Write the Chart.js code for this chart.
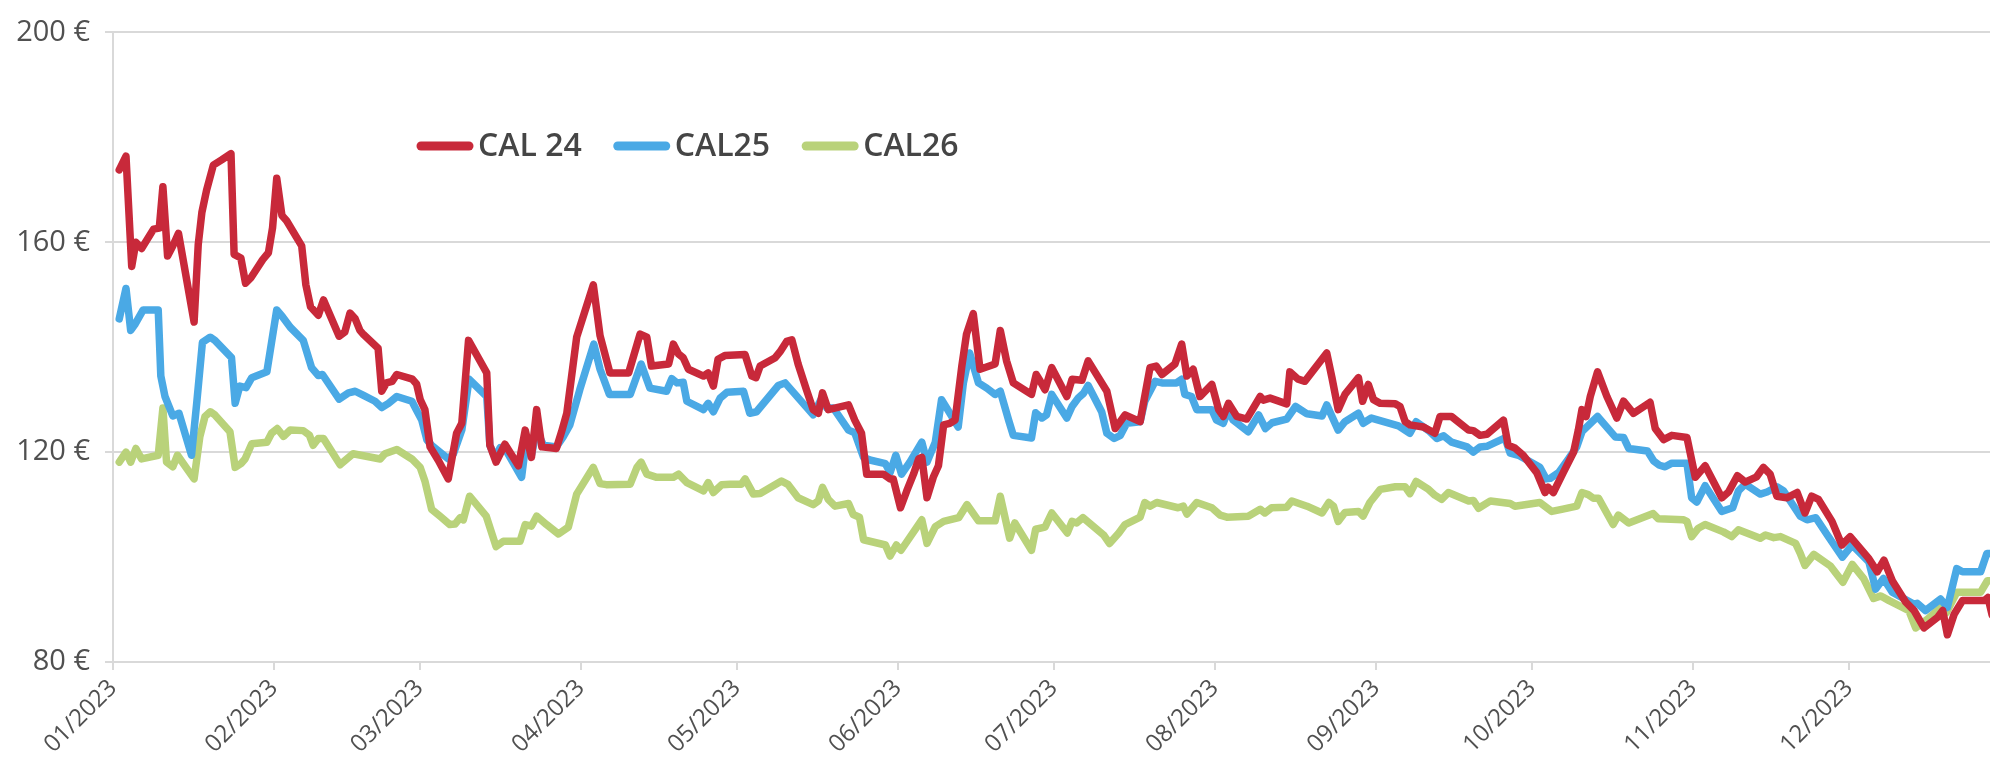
<!DOCTYPE html>
<html>
<head>
<meta charset="utf-8">
<script src="https://cdn.jsdelivr.net/npm/chart.js@4.4.1/dist/chart.umd.min.js"></script>
<style>
  html, body { margin: 0; padding: 0; background: #ffffff; }
  #wrap { width: 1990px; height: 766px; }
</style>
</head>
<body>
<div id="wrap"><canvas id="c" width="1990" height="766"></canvas></div>
<script>
// x values are day-of-year 2023 (0 = 1 Jan)
const monthLabels = ['01/2023','02/2023','03/2023','04/2023','05/2023','06/2023','07/2023','08/2023','09/2023','10/2023','11/2023','12/2023'];
const monthStartDays = [0, 31, 59, 90, 120, 151, 181, 212, 243, 273, 304, 334];
const priceTicks = [80, 120, 160, 200];
const seriesNames = ['CAL 24', 'CAL25', 'CAL26'];

const cal24Days = [1.2,2.5,3.6,4.4,5.5,7.8,8.9,9.6,10.5,11.5,12.6,15.6,16.4,17.1,18.0,19.3,20.9,22.7,23.3,24.6,25.5,26.5,28.8,29.9,30.7,31.5,32.5,33.4,36.3,37.1,38.0,39.5,40.5,43.5,44.6,45.6,46.6,47.5,48.2,51.0,51.7,52.6,53.7,54.6,57.6,58.4,59.1,60.0,61.0,62.6,64.5,66.1,67.1,68.4,71.9,72.5,73.7,75.4,78.0,79.3,80.5,81.5,82.5,85.3,86.3,87.3,89.2,92.4,93.7,95.6,99.2,101.4,102.7,103.6,106.9,107.8,108.8,109.7,110.7,113.6,114.5,115.5,116.4,117.7,121.6,122.9,123.7,124.5,127.4,128.3,129.6,130.6,131.8,133.4,134.7,135.7,136.5,137.6,141.5,142.7,144.0,145.0,148.2,149.5,150.1,151.5,152.7,154.0,155.0,155.6,156.6,157.8,158.8,159.8,161.0,162.0,163.3,164.2,165.5,166.8,169.7,170.7,171.9,173.2,176.7,177.6,178.4,179.3,180.6,183.5,184.5,186.4,187.6,191.2,192.8,194.7,197.6,199.5,200.7,201.8,204.3,205.6,206.6,207.8,209.1,211.4,212.7,213.6,214.6,216.2,218.1,220.7,221.3,222.6,225.8,226.4,228.0,229.3,233.5,234.5,235.7,237.0,239.6,240.4,241.5,242.5,243.8,246.7,247.6,248.6,249.5,252.1,254.3,255.3,257.5,260.8,261.7,263.0,264.3,267.5,268.4,269.7,271.3,273.9,275.5,276.1,277.1,279.0,281.0,281.9,282.6,283.4,284.2,285.6,287.4,289.3,290.6,292.5,295.7,296.7,298.3,299.9,302.8,304.4,306.3,309.5,310.8,312.5,314.0,316.2,317.5,318.8,320.1,322.0,324.0,325.5,326.8,328.1,330.7,332.6,334.2,337.8,339.4,340.7,342.3,344.9,346.5,348.4,351.0,352.0,352.9,354.2,355.8,360.0,360.7,361.5];
const cal24Prices = [173.8,176.4,155.4,160.0,158.8,162.5,162.7,170.6,157.4,159.3,161.7,144.8,159.6,165.7,169.9,174.7,175.7,176.9,157.7,157.0,152.2,153.2,156.7,158.0,162.8,172.2,165.1,164.1,159.3,151.9,147.7,146.1,149.0,142.1,142.9,146.5,145.4,143.2,142.4,139.8,131.6,133.2,133.5,134.8,133.9,133.0,130.0,128.1,121.0,118.4,114.9,123.6,125.5,141.3,135.1,121.3,118.1,121.5,117.4,124.2,119.0,128.1,121.0,120.7,123.9,127.4,141.9,151.9,142.2,135.1,135.1,142.5,141.9,136.4,136.8,140.6,138.7,138.0,135.8,134.5,135.1,132.6,137.7,138.4,138.6,134.5,134.2,136.4,138.0,139.1,141.1,141.4,136.8,131.9,128.1,127.4,131.3,128.1,129.0,126.1,123.6,115.8,115.8,114.9,114.9,109.4,112.6,115.8,118.7,119.0,111.3,115.2,117.4,125.2,125.5,126.1,136.4,142.5,146.4,135.8,136.8,143.2,137.4,133.2,131.0,134.8,133.5,131.9,136.1,130.6,133.9,133.7,137.4,131.6,124.5,127.1,125.8,136.1,136.4,134.8,136.8,140.6,134.5,135.8,130.6,132.9,128.1,126.8,129.3,126.8,126.3,130.6,129.9,130.3,129.2,135.3,133.9,133.5,138.9,134.2,128.1,131.0,134.2,129.7,132.9,130.0,129.3,129.2,128.7,125.8,125.2,124.8,123.6,126.8,126.8,124.2,124.1,123.2,123.4,126.1,121.3,120.8,119.4,116.1,112.3,113.3,112.3,116.1,120.0,124.2,128.1,126.8,130.6,135.3,130.6,126.5,129.7,127.4,129.5,124.5,122.4,123.2,122.8,115.2,117.4,111.3,112.4,115.5,114.3,115.3,117.1,115.8,111.6,111.3,112.3,108.4,111.6,111.0,106.8,102.3,103.9,99.7,97.2,99.4,95.5,91.4,89.8,86.5,88.5,89.8,85.2,89.1,91.7,91.7,92.3,89.0];

const cal25Days = [1.2,2.5,3.4,4.2,5.8,8.7,9.2,10.0,11.5,12.7,15.1,16.1,17.2,18.7,19.6,22.8,23.5,24.4,25.6,26.7,29.6,30.5,31.5,32.6,34.1,36.6,38.2,39.5,40.3,43.5,45.3,46.6,48.2,50.4,51.7,53.0,54.6,57.5,58.4,59.4,60.4,61.3,64.5,65.5,67.1,68.5,71.9,72.5,73.5,74.5,75.4,78.6,79.3,80.5,81.5,82.8,85.3,86.6,87.9,89.8,92.5,93.7,95.5,99.5,101.6,103.3,106.5,107.5,108.5,109.7,110.4,113.6,114.5,115.5,116.8,118.1,121.3,122.5,123.8,128.0,129.3,134.7,136.5,137.3,138.6,141.5,142.7,144.4,145.6,148.6,149.5,150.6,151.7,153.3,155.6,156.6,158.2,159.4,161.0,162.6,163.6,164.8,166.5,168.1,169.7,170.7,172.3,173.2,176.7,177.5,178.7,179.6,180.6,183.5,184.5,185.7,186.7,187.6,190.2,191.2,192.6,193.8,195.0,197.6,198.5,200.5,201.8,204.6,205.6,206.2,207.5,208.5,211.4,212.3,213.6,214.6,215.5,218.4,220.4,221.7,223.0,225.8,227.5,229.7,232.6,233.5,235.7,237.0,239.6,240.5,242.1,247.3,249.5,250.7,253.1,254.7,256.0,257.5,260.5,261.7,263.0,264.3,267.8,268.8,270.4,274.5,275.7,276.5,278.1,280.0,281.6,282.6,285.6,289.0,290.6,291.6,295.2,296.4,297.5,298.6,299.9,302.8,303.7,304.7,306.3,309.5,311.6,312.7,314.0,316.9,318.2,320.1,321.4,324.6,325.9,327.6,329.8,332.7,334.6,337.8,339.1,340.6,342.3,346.5,347.1,348.7,351.6,352.9,354.7,355.8,359.3,360.5,361.5];
const cal25Prices = [145.4,151.2,143.2,144.3,147.1,147.1,134.5,130.6,126.9,127.4,119.4,129.3,140.9,141.9,141.3,138.0,129.3,132.6,132.3,134.2,135.3,140.9,147.1,145.8,143.8,141.3,136.1,134.6,134.8,130.1,131.3,131.6,130.8,129.7,128.5,129.3,130.6,129.7,128.0,126.1,122.3,121.3,118.7,119.7,124.2,133.9,130.6,121.3,119.0,120.9,120.7,115.2,120.7,119.4,124.2,121.3,121.0,122.9,125.2,131.9,140.6,135.8,131.0,131.0,136.8,132.2,131.6,134.0,133.2,133.3,129.7,128.1,129.3,127.7,130.3,131.4,131.6,127.4,127.7,132.7,133.2,127.1,130.6,128.4,128.4,124.2,123.7,119.0,118.5,117.8,116.1,119.4,115.8,118.1,121.9,118.1,121.9,130.0,127.4,124.8,133.2,138.9,133.2,132.2,131.0,131.6,126.1,123.2,122.7,127.5,126.5,127.1,131.0,126.5,128.7,130.3,131.2,132.7,127.7,123.6,122.6,123.2,125.5,125.8,129.7,133.5,133.2,133.2,133.9,131.0,130.6,128.1,128.1,126.1,125.5,128.1,126.1,123.9,127.1,124.5,125.6,126.3,128.7,127.3,126.9,129.0,124.2,125.8,127.4,125.5,126.5,125.0,123.6,125.8,124.1,122.6,123.1,121.9,121.0,120.0,121.0,121.1,122.7,119.8,119.4,117.1,114.9,115.0,116.1,118.7,121.0,123.9,126.8,122.9,122.8,120.7,120.2,118.3,117.5,117.2,117.9,117.9,111.3,110.5,113.6,108.7,109.4,112.6,113.9,112.0,112.4,113.4,112.6,107.8,107.1,107.5,104.2,100.0,102.3,99.1,93.9,95.9,93.3,91.0,91.2,89.8,92.0,90.4,97.8,97.2,97.2,100.7,100.7];

const cal26Days = [1.2,2.5,3.4,4.4,5.5,8.7,9.6,10.3,11.5,12.4,15.6,16.7,17.7,18.7,19.6,22.5,23.5,24.6,25.4,26.7,29.6,30.5,31.6,32.8,34.1,36.6,37.8,38.5,39.5,40.5,43.7,46.2,51.4,52.3,54.6,57.5,59.1,60.0,61.3,62.9,64.8,65.8,66.8,67.4,68.6,71.8,73.7,75.1,78.3,79.3,80.5,81.5,83.4,85.7,87.6,89.2,92.4,93.7,94.9,99.5,100.8,101.6,102.7,104.6,107.8,108.8,110.4,113.6,114.5,115.5,117.1,118.7,120.9,121.6,123.2,124.5,128.6,129.9,131.8,134.7,135.7,136.5,137.6,138.9,141.5,142.4,143.6,144.4,148.6,149.5,150.7,151.6,155.6,156.6,158.2,159.8,162.7,164.3,166.5,169.7,170.7,172.5,173.5,176.7,177.5,179.3,180.6,183.6,184.5,185.4,186.6,190.6,191.7,193.5,194.7,197.6,198.5,199.5,200.8,204.9,205.9,206.6,208.5,211.4,213.0,214.3,218.4,220.7,221.6,222.9,225.8,226.8,229.7,232.6,233.9,234.8,235.7,237.0,239.6,240.5,241.8,243.8,246.7,248.6,249.5,250.7,253.1,254.3,255.6,256.9,260.8,261.7,262.7,265.0,268.8,269.7,274.5,276.8,278.7,281.6,282.6,283.8,284.8,285.8,288.6,289.6,291.6,296.3,297.3,302.1,302.8,303.7,305.0,306.3,309.8,311.4,312.7,315.3,316.9,317.9,319.5,320.8,323.7,324.6,325.5,327.2,330.4,332.8,334.6,336.8,338.7,340.1,341.7,345.5,346.8,349.0,351.6,352.7,354.7,359.3,360.6,361.5];
const cal26Prices = [118.1,120.0,118.1,120.7,118.7,119.4,128.4,118.1,117.2,119.4,114.9,122.9,126.8,127.7,127.1,123.9,117.1,117.8,118.7,121.6,121.9,123.6,124.5,123.0,124.2,124.1,123.2,121.3,122.6,122.6,117.6,119.7,118.7,119.7,120.5,118.7,117.1,114.5,109.1,107.8,106.2,106.3,107.5,107.1,111.6,107.8,102.0,103.0,103.0,106.2,105.9,107.8,106.2,104.4,105.7,112.0,117.1,114.0,113.8,113.9,117.1,118.1,115.8,115.2,115.2,115.8,114.2,112.6,114.2,112.3,113.8,113.9,113.9,114.9,112.0,112.1,114.5,113.8,111.3,110.0,110.7,113.3,111.0,109.7,110.2,108.1,107.6,103.3,102.3,100.2,102.3,101.3,107.1,102.6,105.8,106.8,107.5,110.0,106.9,106.9,111.6,103.6,106.5,101.3,105.3,105.7,108.4,104.6,106.8,106.5,107.5,104.2,102.6,104.6,106.2,107.6,110.4,109.7,110.4,109.4,109.7,108.2,110.4,109.4,108.0,107.6,107.8,109.1,108.4,109.4,109.5,110.7,109.7,108.4,110.4,109.7,106.8,108.5,108.7,107.8,110.4,112.9,113.4,113.4,112.1,114.4,112.9,111.8,111.0,112.3,110.7,110.8,109.3,110.7,110.2,109.7,110.4,108.7,109.1,109.7,112.3,111.9,111.2,111.2,106.2,108.0,106.5,108.3,107.3,107.1,106.8,103.9,105.5,106.2,104.8,103.9,105.2,104.2,103.6,104.2,103.7,103.9,102.6,100.7,98.4,100.5,98.3,95.2,98.6,95.9,92.1,92.6,91.7,89.8,86.5,88.1,90.4,89.4,93.3,93.3,95.5,95.5];

const seriesColors = ['#c8293a', '#4aa9e5', '#b9d27a'];

function toPoints(days, prices) {
  return days.map((d, i) => ({ x: d, y: prices[i] }));
}

const insideLegend = {
  id: 'insideLegend',
  afterDatasetsDraw(chart) {
    const ctx = chart.ctx;
    ctx.save();
    ctx.font = '600 32px "Open Sans"';
    ctx.textBaseline = 'middle';
    ctx.textAlign = 'left';
    let x = 416;
    const y = 146;
    chart.data.datasets.forEach(ds => {
      ctx.strokeStyle = ds.borderColor;
      ctx.lineWidth = 9;
      ctx.lineCap = 'round';
      ctx.beginPath();
      ctx.moveTo(x + 5, y);
      ctx.lineTo(x + 53, y);
      ctx.stroke();
      ctx.fillStyle = '#454545';
      ctx.fillText(ds.label, x + 62, y + 1);
      x += 62 + ctx.measureText(ds.label).width + 31;
    });
    ctx.restore();
  }
};

const lineStyle = {
  borderWidth: 7.5,
  pointRadius: 0,
  pointHoverRadius: 0,
  tension: 0,
  fill: false,
  borderJoinStyle: 'round',
  borderCapStyle: 'round'
};

new Chart(document.getElementById('c'), {
  type: 'line',
  data: {
    datasets: [
      Object.assign({ label: seriesNames[0], data: toPoints(cal24Days, cal24Prices), borderColor: seriesColors[0], backgroundColor: seriesColors[0] }, lineStyle),
      Object.assign({ label: seriesNames[1], data: toPoints(cal25Days, cal25Prices), borderColor: seriesColors[1], backgroundColor: seriesColors[1] }, lineStyle),
      Object.assign({ label: seriesNames[2], data: toPoints(cal26Days, cal26Prices), borderColor: seriesColors[2], backgroundColor: seriesColors[2] }, lineStyle)
    ]
  },
  options: {
    responsive: false,
    animation: false,
    devicePixelRatio: 1,
    layout: { padding: { top: 21, right: 0, bottom: 0, left: 0 } },
    plugins: {
      legend: { display: false },
      tooltip: { enabled: false }
    },
    scales: {
      x: {
        type: 'linear',
        min: 0,
        max: 361.1,
        afterBuildTicks: (scale) => { scale.ticks = monthStartDays.map(v => ({ value: v })); },
        afterFit: (scale) => { scale.height = 104; },
        ticks: {
          autoSkip: false,
          maxRotation: 45,
          minRotation: 45,
          padding: 4,
          color: '#505050',
          font: { family: '"Open Sans"', size: 24 },
          callback: (value) => {
            const i = monthStartDays.indexOf(value);
            return i >= 0 ? monthLabels[i] : '';
          }
        },
        grid: { drawOnChartArea: false, drawTicks: true, tickLength: 8, color: '#d9d9d9', lineWidth: 2 },
        border: { display: true, color: '#d9d9d9', width: 2 }
      },
      y: {
        min: 80,
        max: 200,
        afterBuildTicks: (scale) => { scale.ticks = priceTicks.map(v => ({ value: v })); },
        afterFit: (scale) => { scale.width = 113; },
        ticks: {
          padding: 15,
          color: '#505050',
          font: { family: '"Open Sans"', size: 29 },
          callback: (value) => value + ' €'
        },
        grid: { color: '#d9d9d9', lineWidth: 2, tickLength: 8, drawTicks: true },
        border: { display: true, color: '#d9d9d9', width: 2 }
      }
    }
  },
  plugins: [insideLegend]
});
</script>
</body>
</html>
